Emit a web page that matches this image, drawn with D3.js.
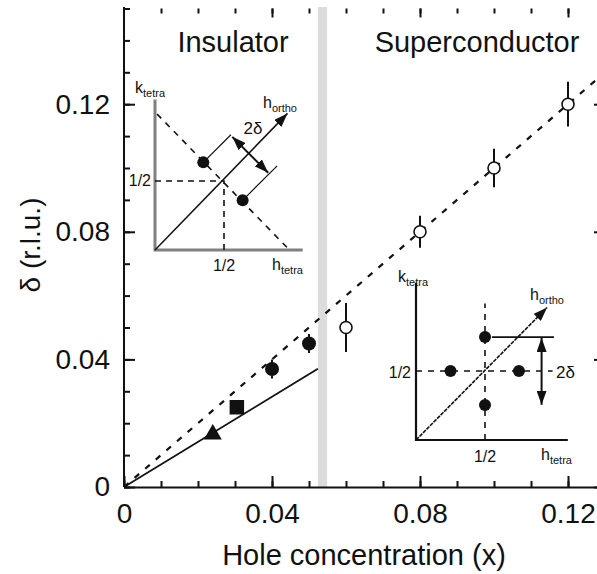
<!DOCTYPE html>
<html>
<head>
<meta charset="utf-8">
<script src="https://cdn.jsdelivr.net/npm/d3@7"></script>
<style>
  body { margin: 0; background: #fff; }
  svg { display: block; }
  text { font-family: "Liberation Sans", Arial, Helvetica, sans-serif; fill: #111; }
</style>
</head>
<body>
<svg id="chart" width="597" height="574"></svg>
<script>
// ---- data ----
// insulating phase: diagonal incommensurability (one marker style per sample series)
const triangleX = [0.024], triangleY = [0.0165];
const squareX = [0.0305], squareY = [0.025];
const insulCircleX = [0.04, 0.05], insulCircleY = [0.037, 0.045], insulCircleErr = [0.003, 0.003];
// superconducting phase: parallel incommensurability
const superX = [0.06, 0.08, 0.10, 0.12];
const superY = [0.050, 0.080, 0.100, 0.120];
const superErr = [0.0077, 0.005, 0.006, 0.007];
// reference lines  delta = slope * x
const dashedSlope = 1, dashedEnd = 0.13;
const solidSlope = Math.SQRT1_2, solidEnd = 0.0524;
// insulator / superconductor boundary
const boundary = [0.0524, 0.0549];
// ticks
const majorTicksX = [0, 0.04, 0.08, 0.12];
const majorTicksY = [0, 0.04, 0.08, 0.12];
const minorTicks = d3.range(0, 0.151, 0.01);

// reciprocal-space sketches (units of the tetragonal lattice)
const insulSpots = [[0.35, 0.635], [0.635, 0.36]];
const superSpots = [[0.5, 0.746], [0.5, 0.254], [0.25, 0.5], [0.746, 0.5]];

const svg = d3.select("#chart");
const x = d3.scaleLinear([0, 0.13], [124, 605]);
const y = d3.scaleLinear([0, 0.15], [487, 8.5]);

// arrowhead marker
svg.append("defs").append("marker")
  .attr("id", "head").attr("viewBox", "0 0 14 10")
  .attr("refX", 14).attr("refY", 5)
  .attr("markerWidth", 14).attr("markerHeight", 10)
  .attr("markerUnits", "userSpaceOnUse")
  .attr("orient", "auto-start-reverse")
  .append("path").attr("d", "M0,0L14,5L0,10Z").attr("fill", "#111");

// boundary band
svg.append("rect")
  .attr("x", x(boundary[0])).attr("width", x(boundary[1]) - x(boundary[0]))
  .attr("y", 7).attr("height", y(0) - 7)
  .attr("fill", "#dcdcdc");

// ---- axes ----
const fmt = d => d === 0 ? "0" : d3.format(".2f")(d);
function styleAxis(g, hideDomain) {
  g.selectAll("line").attr("stroke", "#111").attr("stroke-width", 2);
  g.select(".domain").attr("stroke", hideDomain ? "none" : "#111").attr("stroke-width", 2);
  g.selectAll("text").attr("font-size", 28).attr("fill", "#111")
    .attr("font-family", '"Liberation Sans", Arial, sans-serif');
}
// bottom
svg.append("g").attr("transform", `translate(0,${y(0)})`)
  .call(d3.axisBottom(x).tickValues(minorTicks.filter(v => v <= 0.13)).tickSize(-6).tickSizeOuter(0).tickFormat(""))
  .call(g => styleAxis(g, false));
svg.append("g").attr("transform", `translate(0,${y(0)})`)
  .call(d3.axisBottom(x).tickValues(majorTicksX).tickSize(-11).tickSizeOuter(0).tickPadding(16).tickFormat(fmt))
  .call(g => styleAxis(g, true));
// left
svg.append("g").attr("transform", `translate(${x(0)},0)`)
  .call(d3.axisLeft(y).tickValues(minorTicks).tickSize(-6).tickSizeOuter(0).tickFormat(""))
  .call(g => styleAxis(g, false));
svg.select("g:last-of-type .domain").attr("d", `M0,${y(0)}V7`);
svg.append("g").attr("transform", `translate(${x(0)},0)`)
  .call(d3.axisLeft(y).tickValues(majorTicksY).tickSize(-11).tickSizeOuter(0).tickPadding(14).tickFormat(fmt))
  .call(g => styleAxis(g, true));
// top and right mirror ticks
svg.append("g").attr("transform", `translate(0,${y(0.15)})`)
  .call(d3.axisTop(x).tickValues(minorTicks.filter(v => v > 0 && v <= 0.13)).tickSize(-5).tickFormat(""))
  .call(g => styleAxis(g, true));
svg.append("g").attr("transform", `translate(0,${y(0.15)})`)
  .call(d3.axisTop(x).tickValues(majorTicksX.filter(v => v > 0)).tickSize(-9).tickFormat(""))
  .call(g => styleAxis(g, true));
svg.append("g").attr("transform", `translate(${x(0.13)},0)`)
  .call(d3.axisRight(y).tickValues(minorTicks).tickSize(-6).tickFormat(""))
  .call(g => styleAxis(g, true));
svg.append("g").attr("transform", `translate(${x(0.13)},0)`)
  .call(d3.axisRight(y).tickValues(majorTicksY).tickSize(-11).tickFormat(""))
  .call(g => styleAxis(g, true));

// axis titles
svg.append("text").attr("x", 364).attr("y", 565).attr("text-anchor", "middle")
  .attr("font-size", 29).text("Hole concentration (x)");
svg.append("text").attr("transform", "translate(40,245) rotate(-90)").attr("text-anchor", "middle")
  .attr("font-size", 28).text("δ (r.l.u.)");

// phase titles
svg.append("text").attr("x", 233).attr("y", 52).attr("text-anchor", "middle")
  .attr("font-size", 29).text("Insulator");
svg.append("text").attr("x", 477).attr("y", 52).attr("text-anchor", "middle")
  .attr("font-size", 29).text("Superconductor");

// ---- reference lines ----
const line = d3.line().x(d => x(d[0])).y(d => y(d[1]));
svg.append("path").attr("d", line([[0, 0], [dashedEnd, dashedSlope * dashedEnd]]))
  .attr("fill", "none").attr("stroke", "#111").attr("stroke-width", 2.2).attr("stroke-dasharray", "6,8");
svg.append("path").attr("d", line([[0, 0], [solidEnd, solidSlope * solidEnd]]))
  .attr("fill", "none").attr("stroke", "#111").attr("stroke-width", 1.8);

// ---- data marks ----
const sym = (type, size) => d3.symbol().type(type).size(size)();
svg.selectAll(".tri").data(triangleX).join("path")
  .attr("transform", (d, i) => `translate(${x(d)},${y(triangleY[i])})`)
  .attr("d", sym(d3.symbolTriangle, 140)).attr("fill", "#111");
svg.selectAll(".sq").data(squareX).join("path")
  .attr("transform", (d, i) => `translate(${x(d)},${y(squareY[i])})`)
  .attr("d", sym(d3.symbolSquare, 210)).attr("fill", "#111");

const ins = svg.append("g");
ins.selectAll("line").data(insulCircleX).join("line")
  .attr("x1", d => x(d)).attr("x2", d => x(d))
  .attr("y1", (d, i) => y(insulCircleY[i] - insulCircleErr[i]))
  .attr("y2", (d, i) => y(insulCircleY[i] + insulCircleErr[i]))
  .attr("stroke", "#111").attr("stroke-width", 2);
ins.selectAll("circle").data(insulCircleX).join("circle")
  .attr("cx", d => x(d)).attr("cy", (d, i) => y(insulCircleY[i])).attr("r", 7).attr("fill", "#111");

const sup = svg.append("g");
sup.selectAll("line").data(superX).join("line")
  .attr("x1", d => x(d)).attr("x2", d => x(d))
  .attr("y1", (d, i) => y(superY[i] - superErr[i]))
  .attr("y2", (d, i) => y(superY[i] + superErr[i]))
  .attr("stroke", "#111").attr("stroke-width", 2);
sup.selectAll("circle").data(superX).join("circle")
  .attr("cx", d => x(d)).attr("cy", (d, i) => y(superY[i])).attr("r", 6)
  .attr("fill", "#fff").attr("stroke", "#111").attr("stroke-width", 1.6);

// ---- reciprocal-space sketches ----
function label(g, px, py, main, sub, anchor, size) {
  const t = g.append("text").attr("x", px).attr("y", py).attr("font-size", size || 16)
    .attr("text-anchor", anchor || "start").attr("dy", "0.35em").text(main);
  if (sub) t.append("tspan").attr("font-size", 11).attr("dy", 4).text(sub);
  return t;
}

// insulator: diagonal stripes
{
  const g = svg.append("g");
  const h = d3.scaleLinear([0, 1], [155, 293]);
  const k = d3.scaleLinear([0, 1], [250, 112]);
  const L = d3.line().x(d => h(d[0])).y(d => k(d[1]));
  g.append("path").attr("d", L([[0, 1.09], [0, 0], [1.07, 0]]))
    .attr("fill", "none").attr("stroke", "#808080").attr("stroke-width", 3);
  g.append("path").attr("d", L([[0.015, 0.985], [0.96, 0.015]]))
    .attr("fill", "none").attr("stroke", "#111").attr("stroke-width", 1.6).attr("stroke-dasharray", "6,6");
  g.append("path").attr("d", L([[0, 0.5], [0.5, 0.5], [0.5, 0]]))
    .attr("fill", "none").attr("stroke", "#111").attr("stroke-width", 1.6).attr("stroke-dasharray", "6,5");
  g.append("path").attr("d", L([[0, 0], [0.96, 0.99]]))
    .attr("fill", "none").attr("stroke", "#111").attr("stroke-width", 1.5).attr("marker-end", "url(#head)");
  g.append("path").attr("d", L([insulSpots[0], [insulSpots[0][0] + 0.2, insulSpots[0][1] + 0.2]]))
    .attr("stroke", "#111").attr("stroke-width", 1.2);
  g.append("path").attr("d", L([insulSpots[1], [insulSpots[1][0] + 0.25, insulSpots[1][1] + 0.25]]))
    .attr("stroke", "#111").attr("stroke-width", 1.2);
  g.append("path").attr("d", L([[0.56, 0.82], [0.82, 0.56]]))
    .attr("stroke", "#111").attr("stroke-width", 2)
    .attr("marker-start", "url(#head)").attr("marker-end", "url(#head)");
  g.selectAll("circle").data(insulSpots).join("circle")
    .attr("cx", d => h(d[0])).attr("cy", d => k(d[1])).attr("r", 6).attr("fill", "#111");
  label(g, 253, 128, "2δ", null, "middle", 17);
  label(g, 135, 87, "k", "tetra");
  label(g, 263, 102, "h", "ortho");
  label(g, 272, 264, "h", "tetra");
  label(g, 151, 180, "1/2", null, "end");
  label(g, h(0.5), 265, "1/2", null, "middle");
}

// superconductor: parallel stripes
{
  const g = svg.append("g");
  const h = d3.scaleLinear([0, 1], [416, 554]);
  const k = d3.scaleLinear([0, 1], [440, 302]);
  const L = d3.line().x(d => h(d[0])).y(d => k(d[1]));
  g.append("path").attr("d", L([[0, 1.14], [0, 0], [1.1, 0]]))
    .attr("fill", "none").attr("stroke", "#111").attr("stroke-width", 2.2);
  g.append("path").attr("d", L([[0, 0.5], [0.99, 0.5]]))
    .attr("fill", "none").attr("stroke", "#111").attr("stroke-width", 1.6).attr("stroke-dasharray", "6,6");
  g.append("path").attr("d", L([[0.5, 0], [0.5, 0.99]]))
    .attr("fill", "none").attr("stroke", "#111").attr("stroke-width", 1.6).attr("stroke-dasharray", "6,6");
  g.append("path").attr("d", L([[0, 0], [0.95, 0.96]]))
    .attr("fill", "none").attr("stroke", "#111").attr("stroke-width", 1.6)
    .attr("stroke-dasharray", "4,1").attr("marker-end", "url(#head)");
  g.append("path").attr("d", L([[0.55, superSpots[0][1]], [1.0, superSpots[0][1]]]))
    .attr("stroke", "#111").attr("stroke-width", 1.8);
  g.append("path").attr("d", L([[0.91, 0.74], [0.91, 0.255]]))
    .attr("stroke", "#111").attr("stroke-width", 2)
    .attr("marker-start", "url(#head)").attr("marker-end", "url(#head)");
  g.selectAll("circle").data(superSpots).join("circle")
    .attr("cx", d => h(d[0])).attr("cy", d => k(d[1])).attr("r", 6).attr("fill", "#111");
  label(g, 556, 372, "2δ", null, "start", 17);
  label(g, 398, 276, "k", "tetra");
  label(g, 530, 294, "h", "ortho");
  label(g, 541, 454, "h", "tetra");
  label(g, 411, 372, "1/2", null, "end");
  label(g, h(0.5), 456, "1/2", null, "middle");
}
</script>
</body>
</html>
